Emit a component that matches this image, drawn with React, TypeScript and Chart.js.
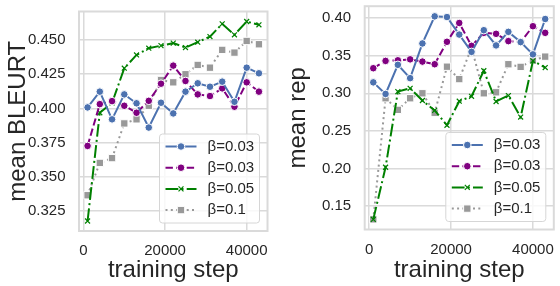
import React, { useEffect, useRef } from 'react';
import { Chart, registerables } from 'chart.js';

Chart.register(...registerables);

// ---------- data ----------
const steps = [1000, 4000, 7000, 10000, 13000, 16000, 19000, 22000, 25000, 28000, 31000, 34000, 37000, 40000, 43000];
const seriesLabels = ['β=0.03', 'β=0.03', 'β=0.05', 'β=0.1'];

const bleurtBlue = [0.4007, 0.4122, 0.392, 0.4102, 0.4037, 0.386, 0.4041, 0.3963, 0.4122, 0.4183, 0.4158, 0.4195, 0.4048, 0.4297, 0.4256];
const bleurtPurple = [0.3726, 0.4031, 0.4053, 0.4019, 0.3968, 0.4055, 0.418, 0.4312, 0.42, 0.4102, 0.409, 0.4146, 0.4012, 0.419, 0.4122];
const bleurtGreen = [0.3178, 0.3968, 0.404, 0.4293, 0.439, 0.4439, 0.4458, 0.4476, 0.4444, 0.4483, 0.4524, 0.4617, 0.4537, 0.4634, 0.461];
const bleurtGray = [0.3366, 0.3602, 0.3637, 0.389, 0.392, 0.4019, 0.4207, 0.419, 0.4249, 0.4317, 0.4297, 0.4427, 0.4407, 0.4492, 0.4468];

const repBlue = [0.3145, 0.2991, 0.3378, 0.3201, 0.3662, 0.4022, 0.4013, 0.378, 0.355, 0.3838, 0.3636, 0.3816, 0.368, 0.3517, 0.3987];
const repPurple = [0.3333, 0.343, 0.3438, 0.3451, 0.3421, 0.3386, 0.3684, 0.3934, 0.363, 0.3803, 0.379, 0.3693, 0.368, 0.3891, 0.3803];
const repGreen = [0.1325, 0.2017, 0.3022, 0.3066, 0.2904, 0.2773, 0.2575, 0.2895, 0.296, 0.3299, 0.2891, 0.297, 0.2684, 0.343, 0.3342];
const repGray = [0.1325, 0.2934, 0.278, 0.2934, 0.3, 0.2741, 0.3353, 0.3188, 0.3605, 0.3, 0.3013, 0.3386, 0.3351, 0.3438, 0.3487];

const xTicks = [0, 20000, 40000];
const bleurtTicks = [0.325, 0.35, 0.375, 0.4, 0.425, 0.45];
const repTicks = [0.15, 0.2, 0.25, 0.3, 0.35, 0.4];

// ---------- styles ----------
const FONT = '"Liberation Sans", Arial, sans-serif';
const TEXT = '#262626';
const GRID = '#dadada';

const seriesStyles = [
  { color: '#4c72b0', dash: [] as number[], point: 'circle', radius: 3.8, pBorder: '#ffffff', pBorderW: 1 },
  { color: '#800080', dash: [7.4, 3.2], point: 'circle', radius: 3.8, pBorder: '#ffffff', pBorderW: 1 },
  { color: '#008000', dash: [12.8, 3.2, 2, 3.2], point: 'crossRot', radius: 3.5, pBorder: '#008000', pBorderW: 1.2 },
  { color: '#999999', dash: [2, 3.3], point: 'rect', radius: 5.2, pBorder: '#ffffff', pBorderW: 1 },
];

function drawMarker(ctx: CanvasRenderingContext2D, style: string, x: number, y: number, r: number, fill: string, stroke: string, lw: number) {
  ctx.save();
  ctx.setLineDash([]);
  ctx.fillStyle = fill;
  ctx.strokeStyle = stroke;
  ctx.lineWidth = lw;
  if (style === 'circle') {
    ctx.beginPath();
    ctx.arc(x, y, r, 0, Math.PI * 2);
    ctx.fill();
    ctx.stroke();
  } else if (style === 'rect') {
    const s = r * Math.SQRT1_2;
    ctx.beginPath();
    ctx.rect(x - s, y - s, 2 * s, 2 * s);
    ctx.fill();
    ctx.stroke();
  } else {
    const s = r * Math.SQRT1_2;
    ctx.beginPath();
    ctx.moveTo(x - s, y - s);
    ctx.lineTo(x + s, y + s);
    ctx.moveTo(x - s, y + s);
    ctx.lineTo(x + s, y - s);
    ctx.stroke();
  }
  ctx.restore();
}

const frameLegendPlugin = {
  id: 'frameLegend',
  afterDraw(chart: any) {
    const { ctx, chartArea: a } = chart;
    ctx.save();
    // frame (spines)
    ctx.strokeStyle = GRID;
    ctx.lineWidth = 2;
    ctx.setLineDash([]);
    ctx.strokeRect(a.left, a.top, a.right - a.left, a.bottom - a.top);
    // legend
    const w = 100;
    const h = 89;
    const x0 = a.right - 8 - w;
    const y0 = a.bottom - 8 - h;
    ctx.beginPath();
    const rr = 3;
    ctx.moveTo(x0 + rr, y0);
    ctx.lineTo(x0 + w - rr, y0);
    ctx.quadraticCurveTo(x0 + w, y0, x0 + w, y0 + rr);
    ctx.lineTo(x0 + w, y0 + h - rr);
    ctx.quadraticCurveTo(x0 + w, y0 + h, x0 + w - rr, y0 + h);
    ctx.lineTo(x0 + rr, y0 + h);
    ctx.quadraticCurveTo(x0, y0 + h, x0, y0 + h - rr);
    ctx.lineTo(x0, y0 + rr);
    ctx.quadraticCurveTo(x0, y0, x0 + rr, y0);
    ctx.closePath();
    ctx.fillStyle = 'rgba(255,255,255,0.8)';
    ctx.fill();
    ctx.strokeStyle = '#d6d6d6';
    ctx.lineWidth = 1;
    ctx.stroke();
    chart.data.datasets.forEach((ds: any, i: number) => {
      const st = seriesStyles[i];
      const y = y0 + 12.5 + i * 21.2;
      ctx.save();
      ctx.strokeStyle = st.color;
      ctx.lineWidth = 2;
      ctx.setLineDash(st.dash);
      ctx.beginPath();
      ctx.moveTo(x0 + 6, y);
      ctx.lineTo(x0 + 37, y);
      ctx.stroke();
      ctx.restore();
      drawMarker(ctx, st.point, x0 + 21.5, y, st.radius, st.color, st.pBorder, st.pBorderW);
      ctx.fillStyle = TEXT;
      ctx.font = `15px ${FONT}`;
      ctx.textBaseline = 'middle';
      ctx.textAlign = 'left';
      ctx.fillText(ds.label, x0 + 48, y);
    });
    ctx.restore();
  },
};

type PanelCfg = {
  series: number[][];
  yTitle: string;
  yTicks: number[];
  yDecimals: number;
  yMin: number;
  yMax: number;
  yAxisWidth: number;
  xAxisHeight: number;
  padTop: number;
  padRight: number;
};

function zeroPadding(scale: any) {
  scale.paddingTop = 0;
  scale.paddingBottom = 0;
  scale.paddingLeft = 0;
  scale.paddingRight = 0;
}

function buildConfig(p: PanelCfg): any {
  return {
    type: 'line',
    data: {
      datasets: p.series.map((vals, i) => {
        const st = seriesStyles[i];
        return {
          label: seriesLabels[i],
          data: steps.map((x, j) => ({ x, y: vals[j] })),
          borderColor: st.color,
          backgroundColor: st.color,
          borderWidth: 2,
          borderDash: st.dash,
          pointStyle: st.point,
          pointRadius: st.radius,
          pointBackgroundColor: st.color,
          pointBorderColor: st.pBorder,
          pointBorderWidth: st.pBorderW,
          tension: 0,
          fill: false,
        };
      }),
    },
    options: {
      responsive: false,
      animation: false,
      events: [],
      layout: { padding: { left: 0, right: p.padRight, top: p.padTop, bottom: 0 } },
      plugins: { legend: { display: false }, tooltip: { enabled: false } },
      scales: {
        x: {
          type: 'linear',
          min: -1100,
          max: 45100,
          afterBuildTicks: (scale: any) => {
            scale.ticks = xTicks.map((v) => ({ value: v }));
          },
          afterFit: (scale: any) => {
            scale.height = p.xAxisHeight;
            zeroPadding(scale);
          },
          grid: { color: GRID, lineWidth: 1.5, drawTicks: false },
          border: { display: false },
          ticks: {
            padding: 11,
            color: TEXT,
            font: { family: FONT, size: 15 },
            maxRotation: 0,
            callback: (v: any) => String(v),
          },
          title: {
            display: true,
            text: 'training step',
            color: TEXT,
            font: { family: FONT, size: 24, lineHeight: 1 },
            padding: { top: 0, bottom: 4 },
          },
        },
        y: {
          type: 'linear',
          min: p.yMin,
          max: p.yMax,
          afterBuildTicks: (scale: any) => {
            scale.ticks = p.yTicks.map((v) => ({ value: v }));
          },
          afterFit: (scale: any) => {
            scale.width = p.yAxisWidth;
            zeroPadding(scale);
          },
          grid: { color: GRID, lineWidth: 1.5, drawTicks: false },
          border: { display: false },
          ticks: {
            padding: 13.5,
            color: TEXT,
            font: { family: FONT, size: 15 },
            callback: (v: any) => Number(v).toFixed(p.yDecimals),
          },
          title: {
            display: true,
            text: p.yTitle,
            color: TEXT,
            font: { family: FONT, size: 24, lineHeight: 1 },
            padding: { top: 6, bottom: 0 },
          },
        },
      },
    },
    plugins: [frameLegendPlugin],
  };
}

function Panel({ left, cfg }: { left: number; cfg: PanelCfg }) {
  const ref = useRef<HTMLCanvasElement>(null);
  useEffect(() => {
    const chart = new Chart(ref.current as HTMLCanvasElement, buildConfig(cfg));
    return () => chart.destroy();
  }, []);
  return (
    <canvas
      ref={ref}
      width={280}
      height={286}
      style={{ position: 'absolute', left, top: 0, width: 280, height: 286 }}
    />
  );
}

const leftCfg: PanelCfg = {
  series: [bleurtBlue, bleurtPurple, bleurtGreen, bleurtGray],
  yTitle: 'mean BLEURT',
  yTicks: bleurtTicks,
  yDecimals: 3,
  yMin: 0.3105,
  yMax: 0.4707,
  yAxisWidth: 79,
  xAxisHeight: 55,
  padTop: 11.5,
  padRight: 12.5,
};

const rightCfg: PanelCfg = {
  series: [repBlue, repPurple, repGreen, repGray],
  yTitle: 'mean rep',
  yTicks: repTicks,
  yDecimals: 2,
  yMin: 0.119,
  yMax: 0.4157,
  yAxisWidth: 84.7,
  xAxisHeight: 56.5,
  padTop: 3,
  padRight: 1.3,
};

export default function App() {
  return (
    <div style={{ position: 'absolute', left: 0, top: 0, width: 560, height: 286, background: '#ffffff', overflow: 'hidden' }}>
      <Panel left={0} cfg={leftCfg} />
      <Panel left={280} cfg={rightCfg} />
    </div>
  );
}
